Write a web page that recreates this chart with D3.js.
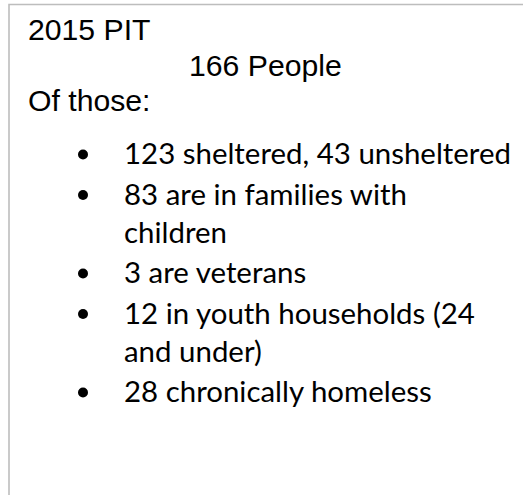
<!DOCTYPE html>
<html>
<head>
<meta charset="utf-8">
<script src="https://cdn.jsdelivr.net/npm/d3@7"></script>
<style>
  html, body { margin: 0; padding: 0; background: #fff; }
  svg { display: block; }
</style>
</head>
<body>
<div id="chart"></div>
<script>
// Text content of the box
var headerLines = ["2015 PIT", "166 People", "Of those:"];
var headerIndent = [0, 161, 0];   // second line sits further right

// each bullet item, already broken into the lines it wraps to
var bulletItems = [
  ["123 sheltered, 43 unsheltered"],
  ["83 are in families with", "children"],
  ["3 are veterans"],
  ["12 in youth households (24", "and under)"],
  ["28 chronically homeless"]
];

var width = 523,
    height = 495;

var boxLeft = 9,
    boxTop = 4.5;

var headerX = 28,
    headerFont = "'Liberation Sans', Arial, sans-serif",
    headerSize = 30.2;

var bulletX = 83,       // bullet dot centre
    textX = 124,        // item text start
    bulletFont = "Lato, 'Noto Sans', sans-serif",
    bulletSize = 28.4,
    lineHeight = 38,    // wrapped line spacing
    itemGap = 2.5,      // extra space between items
    firstWidth = 387;   // width of the first item line in the picture

var svg = d3.select("#chart").append("svg")
    .attr("width", width)
    .attr("height", height);

// border: only top and left edges show in the crop
svg.append("path")
    .attr("d", d3.line()([[boxLeft, height], [boxLeft, boxTop], [width, boxTop]]))
    .attr("fill", "none")
    .attr("stroke", "#bdbdbd")
    .attr("stroke-width", 1.6);

// header lines
var headerY = d3.scaleLinear().domain([0, 2]).range([40, 111]);

svg.selectAll(".header")
    .data(headerLines)
  .enter().append("text")
    .attr("class", "header")
    .attr("x", function(d, i) { return headerX + headerIndent[i]; })
    .attr("y", function(d, i) { return headerY(i); })
    .attr("font-family", headerFont)
    .attr("font-size", headerSize)
    .attr("fill", "#000")
    .text(function(d) { return d; });

// flatten bullet items into lines
var lines = [];
var lineNo = 0;
bulletItems.forEach(function(item, i) {
  item.forEach(function(t, j) {
    lines.push({ text: t, item: i, first: j == 0, line: lineNo });
    lineNo++;
  });
});

var firstBase = 164;
function baseY(d) { return firstBase + d.line * lineHeight + d.item * itemGap; }

var texts = svg.selectAll(".item")
    .data(lines)
  .enter().append("text")
    .attr("class", "item")
    .attr("x", textX)
    .attr("y", baseY)
    .attr("font-family", bulletFont)
    .attr("font-size", bulletSize)
    .attr("fill", "#000")
    .text(function(d) { return d.text; });

// squeeze the substitute font to Calibri's narrower widths
var factor = firstWidth / texts.node().getComputedTextLength();
texts.each(function() {
  var w = this.getComputedTextLength();
  d3.select(this)
    .attr("textLength", w * factor)
    .attr("lengthAdjust", "spacingAndGlyphs");
});

// bullet dots
svg.selectAll(".dot")
    .data(lines.filter(function(d) { return d.first; }))
  .enter().append("circle")
    .attr("class", "dot")
    .attr("cx", bulletX)
    .attr("cy", function(d) { return baseY(d) - 9.5; })
    .attr("r", 5)
    .attr("fill", "#000");
</script>
</body>
</html>
